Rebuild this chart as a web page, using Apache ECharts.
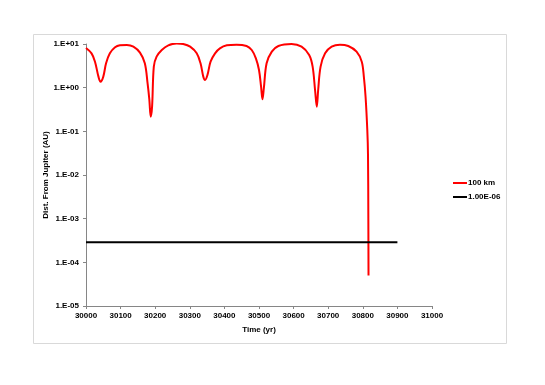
<!DOCTYPE html>
<html>
<head>
<meta charset="utf-8">
<script src="https://cdn.jsdelivr.net/npm/echarts@6/dist/echarts.min.js"></script>
<style>html,body{margin:0;padding:0;background:#fff}#c{width:545px;height:385px}</style>
</head>
<body>
<div id="c"></div>
<script>
// Red series: 100 km
var redYears = [30000,30016,30026,30036,30042,30050,30058,30069,30084,30098,30118,30137,30156,30170,30178,30183,30187,30191,30196,30204,30219,30238,30262,30281,30301,30320,30331,30339,30344,30351,30360,30373,30387,30407,30435,30464,30479,30491,30500,30506,30510,30514,30522,30537,30556,30594,30623,30645,30655,30662,30667,30671,30678,30691,30710,30734,30758,30782,30797,30803,30808,30813,30815,30816,30816.5];
var redValues = [8.1,6.11,3.94,1.79,1.37,1.79,3.61,6.11,8.39,9.32,9.49,8.69,6.33,3.61,1.26,0.54,0.217,0.367,3.03,5.13,7.29,9.32,10.3,10,8.69,6.11,3.61,1.79,1.5,1.95,3.94,6.11,7.96,9.32,9.65,9.0,7.29,4.7,2.54,1.05,0.54,0.97,3.61,6.67,9.0,10,8.69,5.6,3.03,0.885,0.367,0.885,3.03,6.11,8.69,9.65,9.0,6.67,3.94,1.79,0.62,0.107,0.03,0.001,0.00005];
// Black series: 1.00E-06
var blackYears = [30000, 30900];
var blackValues = [0.00029, 0.00029];
var seriesNames = ['100 km', '1.00E-06'];
var xTicks = {min: 30000, max: 31000, interval: 100};
var yTicks = {min: 1e-5, max: 10};

function zip(a, b) { return a.map(function (v, i) { return [v, b[i]]; }); }
function yFmt(v) {
  var e = Math.round(Math.log10(v));
  var s = e < 0 ? '-' : '+';
  var a = Math.abs(e);
  return '1.E' + s + (a < 10 ? '0' : '') + a;
}
var FONT = '"Liberation Sans Narrow", "Liberation Sans", Arial, sans-serif';
var chart = echarts.init(document.getElementById('c'), null, {renderer: 'canvas'});
chart.setOption({
  animation: false,
  backgroundColor: '#fff',
  graphic: [{
    type: 'rect', z: -1,
    shape: {x: 33.5, y: 34.5, width: 473, height: 309},
    style: {fill: '#fff', stroke: '#d9d9d9', lineWidth: 1}
  }],
  grid: {left: 86, right: 113, top: 44, bottom: 79, containLabel: false},
  legend: {
    orient: 'vertical', left: 453, top: 179, itemGap: 6, padding: 0,
    itemWidth: 14, itemHeight: 2, icon: 'rect',
    textStyle: {fontFamily: FONT, fontSize: 8, fontWeight: 'bold', color: '#000', padding: [0, 0, 0, -4]},
    data: seriesNames
  },
  xAxis: {
    type: 'value', min: xTicks.min, max: xTicks.max, interval: xTicks.interval,
    name: 'Time (yr)', nameLocation: 'middle', nameGap: 20, nameMoveOverlap: false,
    nameTextStyle: {fontFamily: FONT, fontSize: 8, fontWeight: 'bold', color: '#000'},
    axisLine: {show: true, lineStyle: {color: '#868686', width: 1}},
    axisTick: {show: true, length: 3, lineStyle: {color: '#868686'}},
    splitLine: {show: false},
    axisLabel: {fontFamily: FONT, fontSize: 8, fontWeight: 'bold', color: '#000', margin: 6, formatter: function (v) { return String(v); }}
  },
  yAxis: {
    type: 'log', logBase: 10, min: yTicks.min, max: yTicks.max,
    name: 'Dist. From Jupiter (AU)', nameLocation: 'middle', nameGap: 36, nameMoveOverlap: false,
    nameTextStyle: {fontFamily: FONT, fontSize: 8, fontWeight: 'bold', color: '#000'},
    axisLine: {show: true, lineStyle: {color: '#868686', width: 1}},
    axisTick: {show: true, length: 3, lineStyle: {color: '#868686'}},
    splitLine: {show: false},
    axisLabel: {fontFamily: FONT, fontSize: 8, fontWeight: 'bold', color: '#000', margin: 7, formatter: yFmt}
  },
  series: [{
    name: seriesNames[0], type: 'line', data: zip(redYears, redValues),
    showSymbol: false, smooth: 0.35,
    lineStyle: {color: '#ff0000', width: 2}, itemStyle: {color: '#ff0000'}
  }, {
    name: seriesNames[1], type: 'line', data: zip(blackYears, blackValues),
    showSymbol: false,
    lineStyle: {color: '#000', width: 2}, itemStyle: {color: '#000'}
  }]
});
</script>
</body>
</html>
